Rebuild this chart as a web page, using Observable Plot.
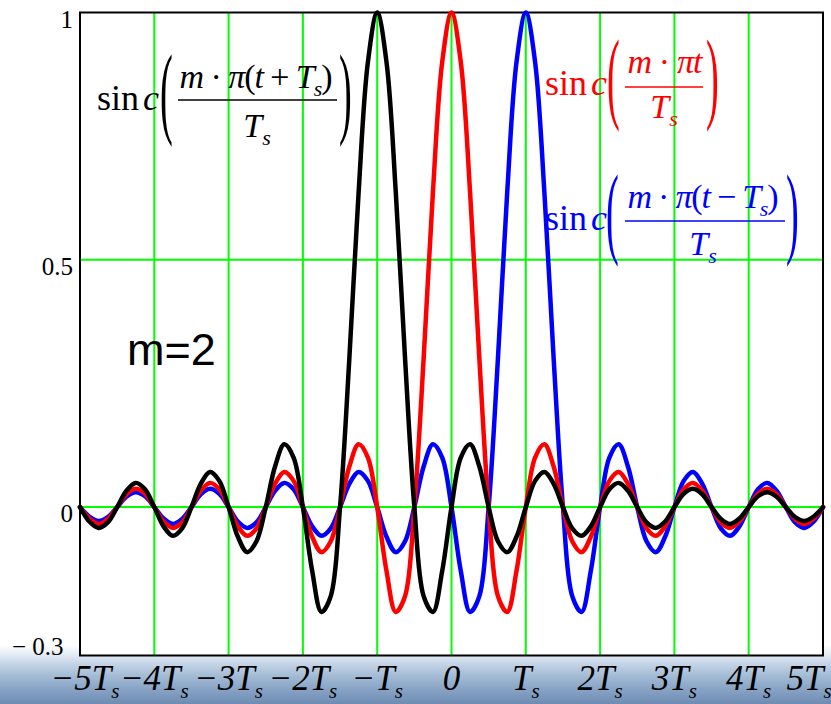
<!DOCTYPE html>
<html><head><meta charset="utf-8">
<script src="https://cdn.jsdelivr.net/npm/d3@7"></script>
<script src="https://cdn.jsdelivr.net/npm/@observablehq/plot@0.6"></script>
<style>
html,body{margin:0;padding:0;}
body{width:831px;height:704px;overflow:hidden;
background:linear-gradient(to bottom,#ffffff 0px,#ffffff 645px,#e6edf5 654px,#c3d4e6 664px,#a3bbd5 676px,#86a2c4 690px,#6e8cb3 704px);}
#chart svg{display:block;}
</style></head><body><div id="chart"></div><script>
// x ticks (multiples of Ts) and their labels
const xTicks = [-5,-4,-3,-2,-1,0,1,2,3,4,5];
const xTickLabels = ["−5T","−4T","−3T","−2T","−T","0","T","2T","3T","4T","5T"];
const yTicks = [1, 0.5, 0, -0.3];
const yTickLabels = ["1", "0.5", "0", "− 0.3"];
const gridXTicks = [-4,-3,-2,-1,0,1,2,3,4];
const gridYTicks = [0.5, 0];

// sample positions (in units of Ts), every Ts/8 from -5Ts to 5Ts
const tSamples = d3.range(-40, 41).map(k => k / 8);

// sinc(m·π·t/Ts), m=2
const redValues = [
 0,-0.023,-0.034,-0.024, 0,0.026,0.037,0.027, 0,-0.029,-0.042,-0.031, 0,0.033,0.049,0.036,
 0,-0.039,-0.058,-0.043, 0,0.047,0.071,0.053, 0,-0.060,-0.091,-0.069, 0,0.082,0.127,0.100,
 0,-0.129,-0.212,-0.180, 0,0.300,0.637,0.900,
 1.000,
 0.900,0.637,0.300,0, -0.180,-0.212,-0.129,0, 0.100,0.127,0.082,0, -0.069,-0.091,-0.060,0,
 0.053,0.071,0.047,0, -0.043,-0.058,-0.039,0, 0.036,0.049,0.033,0, -0.031,-0.042,-0.029,0,
 0.027,0.037,0.026,0, -0.024,-0.034,-0.023,0
];
// sinc(m·π(t+Ts)/Ts) — black curve
const blackValues = [
 0,-0.029,-0.042,-0.031, 0,0.033,0.049,0.036, 0,-0.039,-0.058,-0.043, 0,0.047,0.071,0.053,
 0,-0.060,-0.091,-0.069, 0,0.082,0.127,0.100, 0,-0.129,-0.212,-0.180, 0,0.300,0.637,0.900,
 1.000,
 0.900,0.637,0.300,0, -0.180,-0.212,-0.129,0, 0.100,0.127,0.082,0, -0.069,-0.091,-0.060,0,
 0.053,0.071,0.047,0, -0.043,-0.058,-0.039,0, 0.036,0.049,0.033,0, -0.031,-0.042,-0.029,0,
 0.027,0.037,0.026,0, -0.024,-0.034,-0.023,0, 0.022,0.030,0.021,0, -0.020,-0.028,-0.019,0
];
// sinc(m·π(t−Ts)/Ts) — blue curve
const blueValues = [
 0,-0.019,-0.028,-0.020, 0,0.021,0.030,0.022, 0,-0.023,-0.034,-0.024, 0,0.026,0.037,0.027,
 0,-0.029,-0.042,-0.031, 0,0.033,0.049,0.036, 0,-0.039,-0.058,-0.043, 0,0.047,0.071,0.053,
 0,-0.060,-0.091,-0.069, 0,0.082,0.127,0.100, 0,-0.129,-0.212,-0.180, 0,0.300,0.637,0.900,
 1.000,
 0.900,0.637,0.300,0, -0.180,-0.212,-0.129,0, 0.100,0.127,0.082,0, -0.069,-0.091,-0.060,0,
 0.053,0.071,0.047,0, -0.043,-0.058,-0.039,0, 0.036,0.049,0.033,0, -0.031,-0.042,-0.029,0
];
const seriesNames = ["blue","red","black"];
const seriesColors = ["#0000ff","#ff0000","#000000"];
const seriesValues = [blueValues, redValues, blackValues];

const rows = seriesNames.flatMap((name, s) =>
  seriesValues[s].map((v, i) => ({t: tSamples[i], v, name})));

const serif = "'Liberation Serif','Times New Roman',serif";

const chart = Plot.plot({
  width: 831, height: 704,
  marginTop: 12, marginBottom: 49, marginLeft: 79.5, marginRight: 8.5,
  style: {background: "transparent", fontFamily: serif, overflow: "visible"},
  x: {domain: [-5, 5], axis: null},
  y: {domain: [-0.3, 1], axis: null},
  color: {domain: seriesNames, range: seriesColors},
  marks: [
    Plot.frame({fill: "white", stroke: null}),
    Plot.gridX({ticks: gridXTicks, stroke: "#00ff00", strokeOpacity: 1, strokeWidth: 2}),
    Plot.gridY({ticks: gridYTicks, stroke: "#00ff00", strokeOpacity: 1, strokeWidth: 2}),
    Plot.frame({stroke: "black", strokeWidth: 2}),
    Plot.line(rows, {x: "t", y: "v", z: "name", stroke: "name", strokeWidth: 4.5,
      curve: "catmull-rom", strokeLinejoin: "round"}),
    Plot.text(xTicks, {x: d => d, frameAnchor: "bottom", dy: 23, lineAnchor: "middle",
      text: d => xTickLabels[xTicks.indexOf(d)], fontSize: 35, fontStyle: "italic", fill: "black"}),
    Plot.text(yTicks.slice(0, 3), {y: d => d, frameAnchor: "left", textAnchor: "end", dx: -7, dy: 7,
      lineAnchor: "middle", text: d => yTickLabels[yTicks.indexOf(d)], fontSize: 25, fill: "black"}),
    Plot.text(yTicks.slice(3), {y: d => d, frameAnchor: "left", textAnchor: "end", dx: -16.5, dy: -9,
      lineAnchor: "middle", text: d => yTickLabels[yTicks.indexOf(d)], fontSize: 25, fill: "black"})
  ]
});
document.getElementById("chart").appendChild(chart);

const svg = d3.select(chart);
// subscript s on the x tick labels (first text mark), small nudges at both ends
const xLabelGroup = svg.selectAll('g[aria-label="text"]').nodes()[0];
const xTexts = d3.select(xLabelGroup).selectAll("text");
const nX = xTexts.size();
xTexts.each(function(d, i) {
  const t = d3.select(this);
  const label = this.textContent;
  if (i === 0) t.attr("dx", 5);
  if (i === nX - 1) t.attr("dx", -14);
  if (label !== "0") t.append("tspan").attr("font-size", 21).attr("dy", 8).text("s");
});

// math annotations
const ann = svg.append("g").attr("font-family", serif).attr("text-anchor", "start");
function formula(spec) {
  const g = ann.append("g").attr("fill", spec.color);
  const s = g.append("text").attr("x", spec.sinX).attr("y", spec.sinY).attr("font-size", 36).text("sin");
  s.append("tspan").attr("font-style", "italic").attr("dx", 4).text("c");
  [[spec.lpX, "("], [spec.rpX, ")"]].forEach(([x, ch]) => {
    g.append("text").attr("transform", `translate(${x},${spec.pY}) scale(0.38,1)`)
      .attr("font-size", 101).text(ch);
  });
  const num = g.append("text").attr("x", spec.numCx).attr("y", spec.numY)
    .attr("text-anchor", "middle").attr("font-size", 34)
    .attr("textLength", spec.numW).attr("lengthAdjust", "spacing");
  let shifted = false;
  spec.num.forEach(([txt, it, sub]) => {
    const ts = num.append("tspan").text(txt);
    if (it) ts.attr("font-style", "italic");
    if (sub) { ts.attr("font-size", 22).attr("dy", 8); shifted = true; }
    else if (shifted) { ts.attr("dy", -8); shifted = false; }
  });
  g.append("line").attr("x1", spec.barX1).attr("x2", spec.barX2)
    .attr("y1", spec.barY).attr("y2", spec.barY).attr("stroke", spec.color).attr("stroke-width", 1.6);
  const den = g.append("text").attr("x", spec.denCx).attr("y", spec.denY)
    .attr("text-anchor", "middle").attr("font-size", 34).attr("font-style", "italic").text("T");
  den.append("tspan").attr("font-size", 22).attr("dy", 8).text("s");
}
formula({color: "#000000", sinX: 97, sinY: 110, lpX: 160, rpX: 339, pY: 125,
  num: [["m",1],[" · ",0],["π",1],["(",0],["t",1],[" + ",0],["T",1],["s",1,1],[")",0]],
  numCx: 256, numY: 88, numW: 153, barX1: 178, barX2: 337, barY: 100, denCx: 257, denY: 137});
formula({color: "#ff0000", sinX: 545, sinY: 95, lpX: 607, rpX: 706, pY: 110,
  num: [["m",1],[" · ",0],["π",1],["t",1]],
  numCx: 665, numY: 73, numW: 75, barX1: 625, barX2: 703, barY: 87, denCx: 664, denY: 118});
formula({color: "#0000ff", sinX: 545, sinY: 230, lpX: 606, rpX: 786, pY: 245,
  num: [["m",1],[" · ",0],["π",1],["(",0],["t",1],[" − ",0],["T",1],["s",1,1],[")",0]],
  numCx: 703, numY: 208, numW: 151, barX1: 625, barX2: 785, barY: 221, denCx: 703, denY: 255});

ann.append("text").attr("x", 127).attr("y", 365)
  .attr("font-family", "'Liberation Sans',Arial,sans-serif").attr("font-size", 45).text("m=2");
</script></body></html>
